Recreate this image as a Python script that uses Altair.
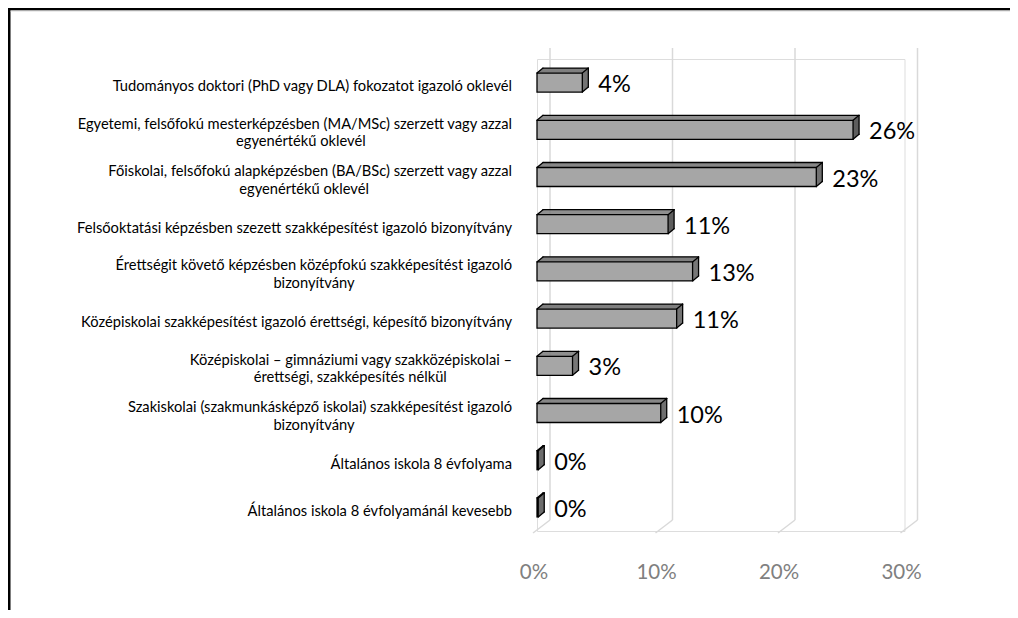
import altair as alt
import pandas as pd

categories = [
    "Tudományos doktori (PhD vagy DLA) fokozatot igazoló oklevél",
    "Egyetemi, felsőfokú mesterképzésben (MA/MSc) szerzett vagy azzal\negyenértékű oklevél",
    "Főiskolai, felsőfokú alapképzésben (BA/BSc) szerzett vagy azzal\negyenértékű oklevél",
    "Felsőoktatási képzésben szezett szakképesítést igazoló bizonyítvány",
    "Érettségit követő képzésben középfokú szakképesítést igazoló\nbizonyítvány",
    "Középiskolai szakképesítést igazoló érettségi, képesítő bizonyítvány",
    "Középiskolai – gimnáziumi vagy szakközépiskolai –\nérettségi, szakképesítés nélkül",
    "Szakiskolai (szakmunkásképző iskolai) szakképesítést igazoló\nbizonyítvány",
    "Általános iskola 8 évfolyama",
    "Általános iskola 8 évfolyamánál kevesebb",
]
values = [3.7, 25.8, 22.8, 10.7, 12.7, 11.4, 2.9, 10.1, 0.1, 0.1]
axis_ticks = [0, 10, 20, 30]

# layout / style
W, H = 367.5, 472
PAD = {"left": 529, "top": 51, "right": 105.5, "bottom": 79}
FONT = "Lato"
DX, DY = 6, 5
HALF = 9.5
FRONT, TOP, SIDE = "#a6a6a6", "#7f7f7f", "#5e5e5e"
EDGE = "#000000"
GRID = "#d9d9d9"
LABEL_SIZE = 14.7
CW = 6.6  # approx. char width for centering wrapped second lines
LABEL_X = -25

df = pd.DataFrame({
    "idx": list(range(len(categories))),
    "value": values,
    "line1": [c.split("\n")[0] for c in categories],
    "line2": [c.split("\n")[1] if "\n" in c else "" for c in categories],
})
df["zero"] = 0
grid_df = pd.DataFrame({"tick": axis_ticks})
frame_df = pd.DataFrame({"frame": [0]})

xs = alt.Scale(domain=[0, 30], nice=False, zero=False)
ys = alt.Scale(domain=[-0.5, len(categories) - 0.5], reverse=True, nice=False, zero=False)
x_axis = alt.Axis(
    values=axis_ticks, labelExpr="datum.value + '%'", title=None, domain=False,
    ticks=False, tickSize=0, grid=False, labelFlush=False, labelColor="#808080",
    labelFont=FONT, labelFontSize=20.5, labelPadding=41, labelBaseline="middle",
    labelOffset=-3.5,
)


def xf(field):
    return alt.X(f"{field}:Q", scale=xs, axis=x_axis)


Y = alt.Y("idx:Q", scale=ys, axis=None)
Y2 = alt.Y2("idx")
base = alt.Chart(df)

layers = []

# back-wall gridlines with floor diagonals
layers.append(
    alt.Chart(grid_df).mark_rule(color=GRID, strokeWidth=1.5, xOffset=13, yOffset=-11, y2Offset=-11)
    .encode(x=xf("tick"), y=alt.value(0), y2=alt.value("height"))
)
layers.append(
    alt.Chart(grid_df).mark_rule(color=GRID, strokeWidth=1.5, xOffset=13, x2Offset=-4, yOffset=-11, y2Offset=2)
    .encode(x=xf("tick"), x2=alt.X2("tick"), y=alt.value("height"), y2=alt.value("height"))
)

# top face (parallelogram built from thin strips)
for k in range(DY):
    s = DX * (k + 0.5) / DY
    layers.append(
        base.mark_rect(fill=TOP, xOffset=s, x2Offset=s, yOffset=-HALF - k - 1.15, y2Offset=-HALF - k + 0.15)
        .encode(x=xf("zero"), x2=alt.X2("value"), y=Y, y2=Y2)
    )

# side face
for j in range(DX):
    s = DY * (j + 0.5) / DX
    layers.append(
        base.mark_rect(fill=SIDE, xOffset=j - 0.1, x2Offset=j + 1.1, yOffset=-HALF - s, y2Offset=HALF - s)
        .encode(x=xf("value"), x2=alt.X2("value"), y=Y, y2=Y2)
    )

# front face
layers.append(
    base.mark_rect(fill=FRONT, stroke=EDGE, strokeWidth=1.3, yOffset=-HALF, y2Offset=HALF)
    .encode(x=xf("zero"), x2=alt.X2("value"), y=Y, y2=Y2)
)


def edge(xa, xb, xo, x2o, yo, y2o):
    return base.mark_rule(color=EDGE, strokeWidth=1.3, strokeCap="round",
                          xOffset=xo, x2Offset=x2o, yOffset=yo, y2Offset=y2o).encode(
        x=xf(xa), x2=alt.X2(xb), y=Y, y2=Y2)


layers += [
    edge("zero", "value", DX, DX, -HALF - DY, -HALF - DY),
    edge("zero", "zero", 0, DX, -HALF, -HALF - DY),
    edge("value", "value", 0, DX, -HALF, -HALF - DY),
    edge("value", "value", DX, DX, -HALF - DY, HALF - DY),
    edge("value", "value", 0, DX, HALF, HALF - DY),
]

# value labels
layers.append(
    base.transform_calculate(lab="format(datum.value, '.0f') + '%'")
    .mark_text(align="left", baseline="middle", dx=16, dy=2.5, font=FONT, fontSize=23.5, color="black")
    .encode(x=xf("value"), y=Y, text="lab:N")
)

# category labels
layers.append(
    base.transform_filter("datum.line2 == ''")
    .mark_text(align="right", baseline="middle", dy=4.5, font=FONT, fontSize=LABEL_SIZE, color="black")
    .encode(x=alt.value(LABEL_X), y=Y, text="line1:N")
)
layers.append(
    base.transform_filter("datum.line2 != ''")
    .mark_text(align="right", baseline="middle", dy=-5, font=FONT, fontSize=LABEL_SIZE, color="black")
    .encode(x=alt.value(LABEL_X), y=Y, text="line1:N")
)
layers.append(
    base.transform_filter("datum.line2 != ''")
    .transform_calculate(cx=f"({LABEL_X} - length(datum.line1) * {CW} / 2) * 30 / {W}")
    .mark_text(align="center", baseline="middle", dy=12.5, font=FONT, fontSize=LABEL_SIZE, color="black")
    .encode(x=alt.X("cx:Q", scale=xs, axis=x_axis), y=Y, text="line2:N")
)

# outer frame (left and top edges)
layers.append(
    alt.Chart(frame_df).mark_rule(color="black", strokeWidth=2.5)
    .encode(x=alt.value(-PAD["left"] + 1.25), y=alt.value(-PAD["top"]), y2=alt.value(H + PAD["bottom"]))
)
layers.append(
    alt.Chart(frame_df).mark_rule(color="black", strokeWidth=2.5)
    .encode(x=alt.value(-PAD["left"]), x2=alt.value(W + PAD["right"]), y=alt.value(-PAD["top"] + 1.25))
)
layers.append(
    alt.Chart(frame_df).mark_rule(color="#d9d9d9", strokeWidth=1)
    .encode(x=alt.value(-PAD["left"] + 2.5), x2=alt.value(W + PAD["right"]), y=alt.value(-PAD["top"] + 3))
)

chart = (
    alt.layer(*layers)
    .properties(width=W, height=H, padding=PAD, autosize=alt.AutoSizeParams(type="none"))
    .configure_view(strokeWidth=0)
    .configure(background="white")
)

chart.save("out.html", embed_options={"renderer": "svg", "actions": False})
